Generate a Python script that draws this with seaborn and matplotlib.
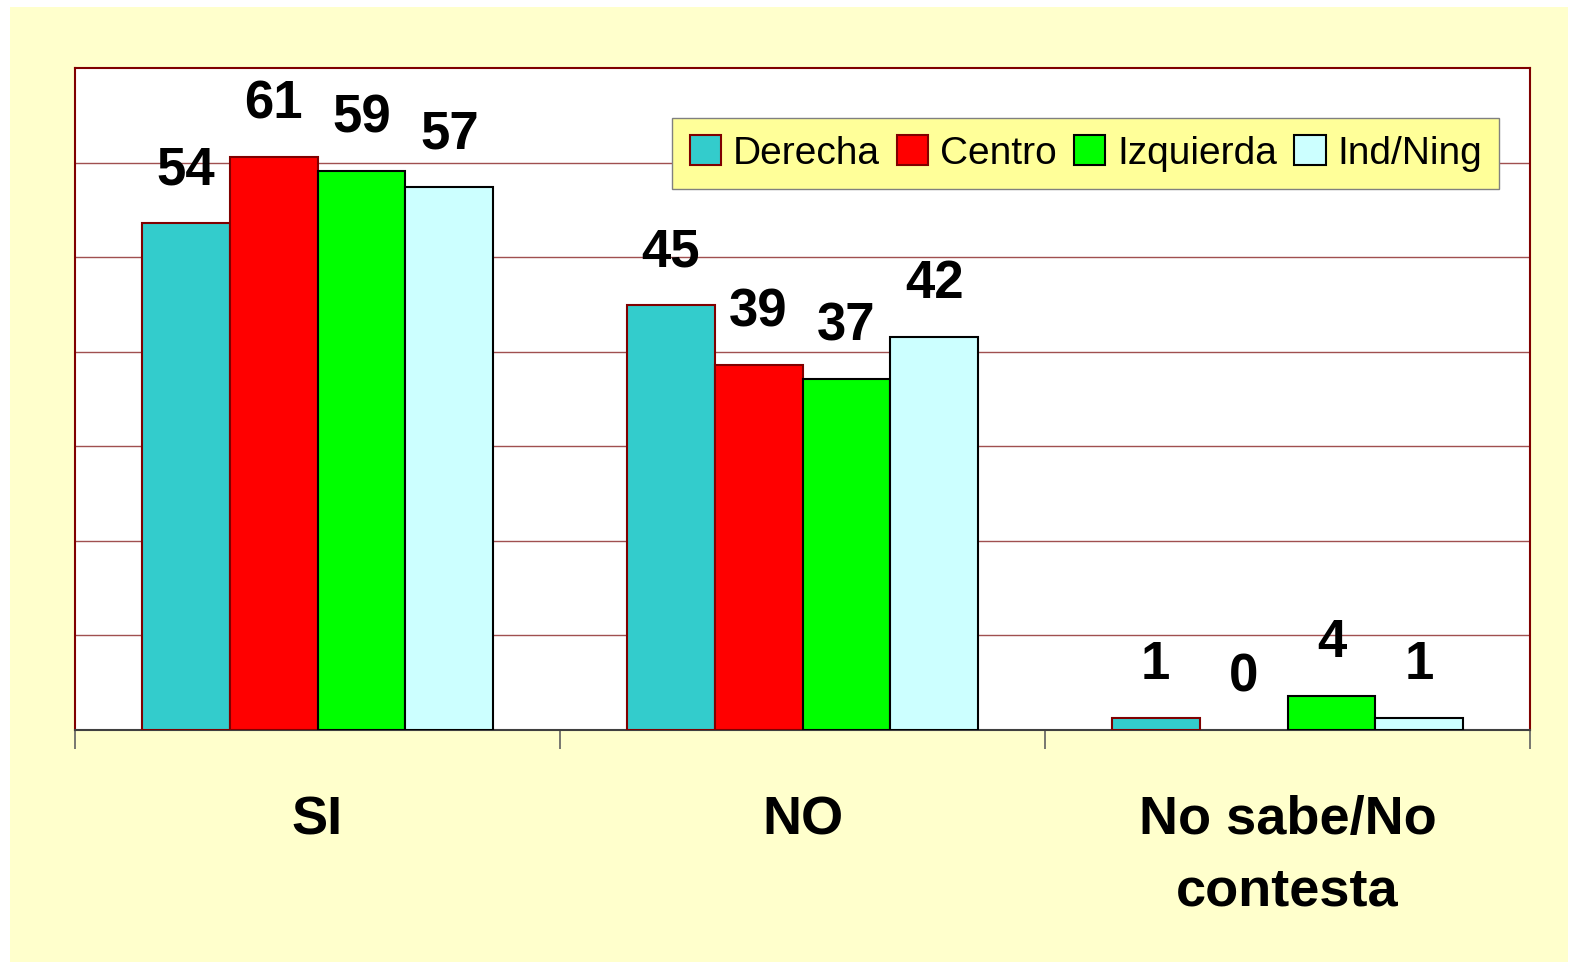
import numpy as np
import pandas as pd
import seaborn as sns
import matplotlib.pyplot as plt
from matplotlib.patches import Rectangle

categories = ["SI", "NO", "No sabe/No\ncontesta"]
groups = ["Derecha", "Centro", "Izquierda", "Ind/Ning"]
derecha = [53.6, 44.9, 1.3]
centro = [60.6, 38.6, 0.0]
izquierda = [59.1, 37.1, 3.6]
indning = [57.4, 41.6, 1.3]

colors = ["#33CCCC", "#FF0000", "#00FF00", "#CCFFFF"]
edges = ["#800000", "#800000", "#000000", "#000000"]

rows = []
for g, vals in zip(groups, [derecha, centro, izquierda, indning]):
    for c, v in zip(categories, vals):
        rows.append({"cat": c, "grupo": g, "valor": v})
df = pd.DataFrame(rows)

sns.set_style("white")
plt.rcParams["font.family"] = ["Liberation Sans", "DejaVu Sans"]
plt.rcParams["text.color"] = "black"
plt.rcParams["xtick.labelcolor"] = "black"

fig = plt.figure(figsize=(15.78, 9.69), dpi=100)
fig.patch.set_facecolor("white")
fig.patches.append(Rectangle((10 / 1578, 7 / 969), 1558 / 1578, 955 / 969,
                             transform=fig.transFigure, facecolor="#FFFFCC",
                             edgecolor="none", zorder=-10))
ax = fig.add_axes([75 / 1578, 1 - 730 / 969, 1455 / 1578, 662 / 969])
ax.set_facecolor("white")

sns.barplot(data=df, x="cat", y="valor", hue="grupo", order=categories,
            hue_order=groups, palette=colors, width=0.725, saturation=1,
            ax=ax, zorder=3)

for cont, ec in zip(ax.containers, edges):
    for p in cont:
        p.set_edgecolor(ec)
        p.set_linewidth(1.5 if p.get_height() > 0 else 0)
    ax.bar_label(cont, fmt="%.0f", padding=20, fontsize=38,
                 fontweight="bold", color="black")

ax.set_ylim(0, 70)
ax.set_xlim(-0.5, 2.5)
ax.set_yticks(np.arange(10, 70, 10))
ax.yaxis.grid(True, color="#A05050", linewidth=1, zorder=0)
ax.tick_params(axis="y", left=False, labelleft=False)
ax.set_xlabel("")
ax.set_ylabel("")

ax.set_xticks(range(len(categories)))
ax.set_xticklabels(categories, fontsize=39, fontweight="bold",
                   color="black", linespacing=1.55)
ax.tick_params(axis="x", which="major", length=0, pad=47)
ax.set_xticks([-0.5, 0.5, 1.5, 2.5], minor=True)
ax.tick_params(axis="x", which="minor", bottom=True, length=14,
               color="#606060", width=1.2, direction="out")

for s in ["top", "left", "right"]:
    ax.spines[s].set_color("#800000")
    ax.spines[s].set_linewidth(1.5)
ax.spines["bottom"].set_color("#404040")
ax.spines["bottom"].set_linewidth(1.5)

leg = ax.legend(loc="upper right", bbox_to_anchor=(0.979, 0.9245), ncol=4,
                fontsize=28, frameon=True, fancybox=False, handlelength=0.8,
                handleheight=0.8, handletextpad=0.3, columnspacing=0.45,
                borderpad=0.45, borderaxespad=0)
leg.get_frame().set_facecolor("#FFFF99")
leg.get_frame().set_edgecolor("#808080")
leg.get_frame().set_alpha(1)
for h, ec in zip(leg.legend_handles, edges):
    h.set_edgecolor(ec)
    h.set_linewidth(1.5)

fig.savefig("out.png", dpi=100, facecolor=fig.get_facecolor())
